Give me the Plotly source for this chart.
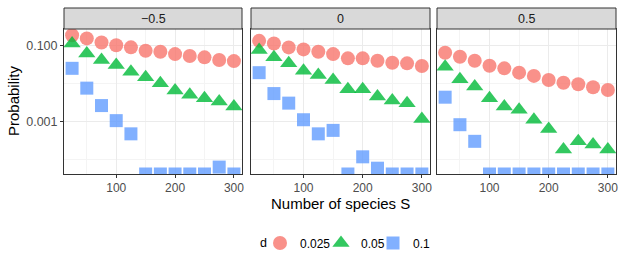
import plotly.graph_objects as go

# ---- data ----
S = [25, 50, 75, 100, 125, 150, 175, 200, 225, 250, 275, 300]
facets = ["\u22120.5", "0", "0.5"]
d_levels = ["0.025", "0.05", "0.1"]

# panel -0.5
p1_d0025 = [0.191, 0.157, 0.123, 0.104, 0.091, 0.074, 0.0695, 0.0605, 0.0536, 0.0495, 0.042, 0.0395]
p1_d005 = [0.1156, 0.063, 0.042, 0.031, 0.0207, 0.0147, 0.0103, 0.00655, 0.00505, 0.00413, 0.00336, 0.00248]
p1_d01 = [0.0254, 0.0076, 0.00263, 0.00105, 0.00047, 0, 0, 0, 0, 0, 0.000062, 0]
# panel 0
p2_d0025 = [0.1355, 0.1156, 0.0908, 0.0804, 0.0695, 0.0605, 0.0466, 0.0466, 0.0403, 0.0357, 0.0344, 0.0292]
p2_d005 = [0.077, 0.0495, 0.0344, 0.022, 0.0169, 0.0125, 0.00713, 0.0071, 0.00455, 0.00357, 0.00305, 0.00116]
p2_d01 = [0.0195, 0.00546, 0.00305, 0.00111, 0.00047, 0.00058, 0, 0.000116, 0.000058, 0, 0, 0]
# panel 0.5
p3_d0025 = [0.0655, 0.0514, 0.0403, 0.0298, 0.0254, 0.0195, 0.016, 0.0125, 0.0106, 0.0096, 0.008, 0.0068]
p3_d005 = [0.028, 0.013, 0.00836, 0.00413, 0.00248, 0.00203, 0.00111, 0.00063, 0.00018, 0.000298, 0.000244, 0.00018]
p3_d01 = [0.00438, 0.00082, 0.000298, 0, 0, 0, 0, 0, 0, 0, 0, 0]

y_tickvals = [0.1, 0.001]
y_ticktext = ["0.100", "0.001"]
x_tickvals = [100, 200, 300]

panels = [
    [p1_d0025, p1_d005, p1_d01],
    [p2_d0025, p2_d005, p2_d01],
    [p3_d0025, p3_d005, p3_d01],
]

# ---- style ----
W, H = 623, 267
FONT = "Liberation Sans, Arial, sans-serif"
colors = ["#F8766D", "#00BA38", "#619CFF"]
symbols = ["circle", "triangle-up", "square"]
sizes = [14, 15, 13]
YMIN, YMAX = -4.39, -0.555
XRANGE = [11.25, 313.75]

px_x = [(64, 242), (251, 430), (437, 616)]
py_top, py_bot = 29, 174
strip_top = 8
legend_sym_x = [280, 341, 393]
legend_y = 243

def fx(p):
    return p / W

def fy(p):
    return 1 - p / H

fig = go.Figure()
legend_names = ["legend", "legend2", "legend3"]

for i, series in enumerate(panels):
    xa = "x" if i == 0 else f"x{i+1}"
    ya = "y" if i == 0 else f"y{i+1}"
    for j, vals in enumerate(series):
        yy = [v if v > 0 else 10 ** YMIN for v in vals]
        fig.add_trace(go.Scatter(
            x=S, y=yy, mode="markers", xaxis=xa, yaxis=ya,
            name=d_levels[j], legendgroup=d_levels[j], showlegend=(i == 0),
            legend=legend_names[j],
            marker=dict(symbol=symbols[j], size=sizes[j], color=colors[j],
                        opacity=0.8, line=dict(width=0)),
            cliponaxis=True,
        ))

layout = dict(
    template="none",
    width=W, height=H, margin=dict(l=0, r=0, t=0, b=0, autoexpand=False),
    paper_bgcolor="white", plot_bgcolor="white",
    font=dict(family=FONT, size=12, color="#4D4D4D"),
    showlegend=True,
    shapes=[], annotations=[],
)
for j, ln in enumerate(legend_names):
    layout[ln] = dict(orientation="h", x=fx(legend_sym_x[j] - 20), xanchor="left",
                      y=fy(legend_y), yanchor="middle",
                      font=dict(size=12, color="black"), itemwidth=30,
                      bgcolor="rgba(0,0,0,0)", borderwidth=0)

for i in range(3):
    sx = "xaxis" if i == 0 else f"xaxis{i+1}"
    sy = "yaxis" if i == 0 else f"yaxis{i+1}"
    ya = "y" if i == 0 else f"y{i+1}"
    xa = "x" if i == 0 else f"x{i+1}"
    layout[sx] = dict(
        domain=[fx(px_x[i][0]), fx(px_x[i][1])], range=XRANGE, anchor=ya, automargin=False,
        tickvals=x_tickvals, ticks="outside", ticklen=3, tickcolor="#333333",
        tickfont=dict(size=12, color="#4D4D4D"),
        showgrid=True, gridcolor="#EBEBEB", gridwidth=1,
        minor=dict(tickvals=[50, 150, 250], showgrid=True, gridcolor="#F4F4F4", gridwidth=0.6, ticklen=0),
        showline=True, linecolor="#333333", linewidth=1, mirror=True, zeroline=False,
    )
    layout[sy] = dict(
        domain=[fy(py_bot), fy(py_top)], type="log", range=[YMIN, YMAX], anchor=xa, automargin=False,
        tickvals=y_tickvals, ticktext=y_ticktext,
        showticklabels=(i == 0),
        ticks="outside" if i == 0 else "", ticklen=3, tickcolor="#333333",
        tickfont=dict(size=12.5, color="#4D4D4D"),
        showgrid=True, gridcolor="#EBEBEB", gridwidth=1,
        minor=dict(tickvals=[0.01, 0.0001], showgrid=True, gridcolor="#F4F4F4", gridwidth=0.6, ticklen=0),
        showline=True, linecolor="#333333", linewidth=1, mirror=True, zeroline=False,
    )
    # strip
    layout["shapes"].append(dict(
        type="rect", xref="paper", yref="paper",
        x0=fx(px_x[i][0]), x1=fx(px_x[i][1]), y0=fy(py_top), y1=fy(strip_top),
        fillcolor="#D9D9D9", line=dict(color="#333333", width=1), layer="above"))
    layout["annotations"].append(dict(
        text=facets[i], xref="paper", yref="paper",
        x=(fx(px_x[i][0]) + fx(px_x[i][1])) / 2, y=(fy(py_top) + fy(strip_top)) / 2,
        showarrow=False, xanchor="center", yanchor="middle",
        font=dict(size=12.5, color="#1A1A1A", family=FONT)))

layout["annotations"].append(dict(
    text="Number of species S", xref="paper", yref="paper",
    x=fx(340), y=fy(203), showarrow=False, xanchor="center", yanchor="middle",
    font=dict(size=15, color="black", family=FONT)))
layout["annotations"].append(dict(
    text="Probability", xref="paper", yref="paper",
    x=fx(13), y=fy(101), showarrow=False, xanchor="center", yanchor="middle",
    textangle=-90, font=dict(size=15, color="black", family=FONT)))
layout["annotations"].append(dict(
    text="d", xref="paper", yref="paper",
    x=fx(263), y=fy(legend_y), showarrow=False, xanchor="center", yanchor="middle",
    font=dict(size=12.5, color="black", family=FONT)))

fig.update_layout(**layout)
fig.write_html("out.html", config={"displayModeBar": False},
               post_script="document.body.style.margin='0px';")
